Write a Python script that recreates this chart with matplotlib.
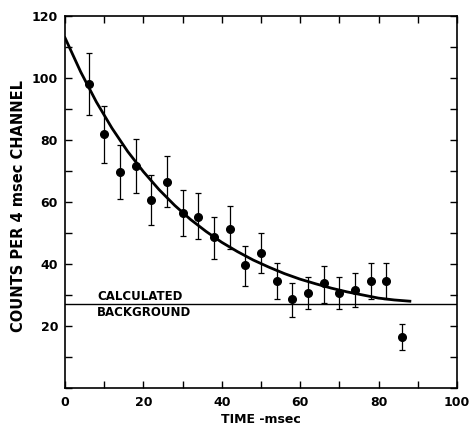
import numpy as np
import matplotlib.pyplot as plt

# measured counts, one point per 4 msec channel
time_ms = [6, 10, 14, 18, 22, 26, 30, 34, 38, 42, 46, 50, 54, 58, 62, 66, 70, 74, 78, 82, 86]
counts = [98, 82, 69.6, 71.6, 60.6, 66.5, 56.5, 55.3, 48.6, 51.4, 39.6, 43.6, 34.6, 28.6, 30.5,
          33.8, 30.5, 31.6, 34.6, 34.4, 16.5]
err_lo = [10, 9.3, 8.6, 8.6, 8.0, 8.0, 7.5, 7.3, 6.9, 6.4, 6.6, 6.6, 6.0, 5.6, 5.1,
          6.3, 5.1, 5.6, 6.0, 5.8, 4.2]
err_hi = [10, 8.9, 8.8, 8.6, 8.1, 8.3, 7.5, 7.7, 6.7, 7.3, 6.2, 6.3, 5.8, 5.4, 5.4,
          5.6, 5.4, 5.6, 5.8, 6.0, 4.1]

# fitted decay curve
curve_t = [0, 4, 8, 12, 16, 20, 24, 28, 32, 36, 40, 44, 48, 52, 56, 60, 64, 68, 72, 76, 80, 84, 88]
curve_y = [113, 102, 92.3, 83.8, 76.3, 69.8, 64.0, 58.9, 54.4, 50.5, 47.0, 44.0, 41.3, 39.0,
           36.9, 35.1, 33.6, 32.2, 31.0, 30.0, 29.0, 28.4, 28.0]

background = 27.0

plt.rcParams['font.family'] = 'DejaVu Sans'
plt.rcParams['font.weight'] = 'bold'

fig = plt.figure(figsize=(4.72, 4.28), dpi=100)
ax = fig.add_axes([0.1377, 0.0935, 0.8303, 0.869])

ax.plot(curve_t, curve_y, color='black', lw=2.0)
ax.axhline(background, color='black', lw=1.0)
ax.errorbar(time_ms, counts, yerr=[err_lo, err_hi], fmt='o', color='black',
            ms=5.5, elinewidth=0.9, capsize=2.2, capthick=0.9)

ax.text(8.2, 29.6, "CALCULATED", fontsize=8.5, fontweight='bold', va='center')
ax.text(8.2, 24.2, "BACKGROUND", fontsize=8.5, fontweight='bold', va='center')

ax.set_xlim(0, 100)
ax.set_ylim(0, 120)
ax.set_xticks(np.arange(0, 101, 20))
ax.set_xticks(np.arange(0, 101, 10), minor=True)
ax.set_yticks(np.arange(20, 121, 20))
ax.set_yticks(np.arange(0, 121, 10), minor=True)
ax.tick_params(which='both', direction='in', top=True, right=True, length=5, width=1.0,
               labelsize=9)
ax.tick_params(axis='x', pad=6)
ax.tick_params(axis='y', pad=5)
for lab in ax.get_xticklabels() + ax.get_yticklabels():
    lab.set_fontweight('bold')
for s in ax.spines.values():
    s.set_linewidth(1.2)

ax.set_xlabel("TIME -msec", fontsize=9, fontweight='bold', labelpad=3)
ax.set_ylabel("COUNTS PER 4 msec CHANNEL", fontsize=10.5, fontweight='bold')
ax.yaxis.set_label_coords(-0.10, 0.49)

fig.savefig("out.png", dpi=100)
